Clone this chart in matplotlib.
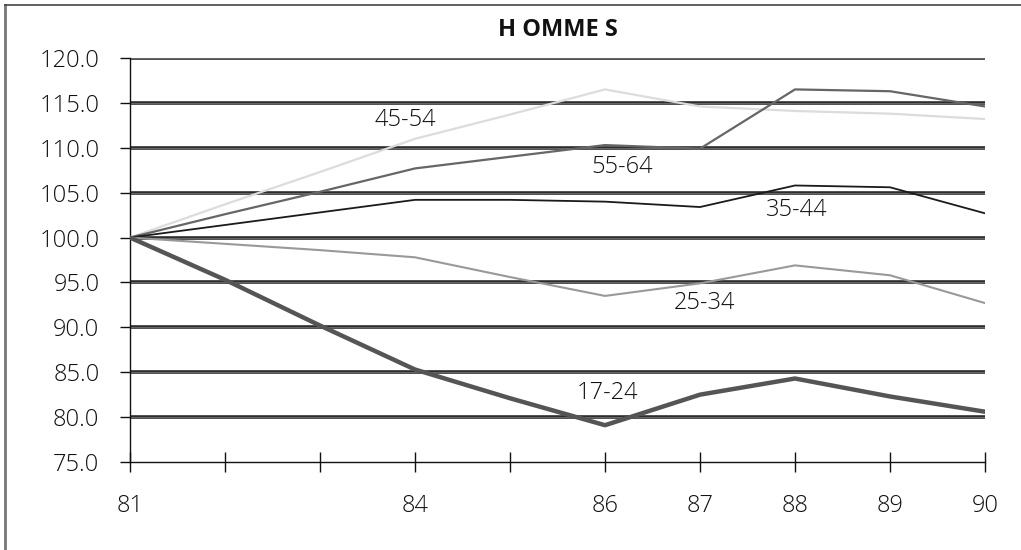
import matplotlib.pyplot as plt
from matplotlib.lines import Line2D

plt.rcParams['font.family'] = ['Open Sans', 'DejaVu Sans']
plt.rcParams['font.weight'] = 'light'

# années (seules certaines sont étiquetées)
years = ['81', '', '', '84', '', '86', '87', '88', '89', '90']

age_17_24 = [100.0, 95.3, 90.2, 85.3, 82.1, 79.1, 82.5, 84.3, 82.3, 80.6]
age_25_34 = [100.0, 99.3, 98.6, 97.8, 95.6, 93.5, 94.9, 96.9, 95.8, 92.7]
age_35_44 = [100.0, 101.4, 102.8, 104.2, 104.2, 104.0, 103.4, 105.8, 105.6, 102.7]
age_45_54 = [100.0, 103.7, 107.3, 111.0, 113.7, 116.5, 114.6, 114.1, 113.8, 113.2]
age_55_64 = [100.0, 102.6, 105.1, 107.7, 109.0, 110.3, 109.9, 116.5, 116.3, 114.6]

fig = plt.figure(figsize=(10.21, 5.5), dpi=100)
ax = fig.add_axes([130 / 1021, 1 - 462 / 550, 855 / 1021, 404 / 550])

# cadre gris autour du graphique (gauche et haut)
fig.add_artist(Line2D([5 / 1021, 5 / 1021], [0, 1 - 5 / 550], transform=fig.transFigure,
                      color='#777777', lw=2.0))
fig.add_artist(Line2D([5 / 1021, 1], [1 - 5 / 550, 1 - 5 / 550], transform=fig.transFigure,
                      color='#444444', lw=1.2))

x = list(range(len(years)))

# lignes de grille épaisses
for v in [80, 85, 90, 95, 100, 105, 110, 115, 120]:
    ax.axhline(v, color='#2a2a2a', lw=2.6, zorder=1)
    ax.axhline(v, color='#666666', lw=0.8, zorder=1)

ax.plot(x, age_45_54, color='#dcdcdc', lw=1.6, zorder=3)
ax.plot(x, age_55_64, color='#666666', lw=1.6, zorder=3)
ax.plot(x, age_35_44, color='#1a1a1a', lw=1.3, zorder=3)
ax.plot(x, age_25_34, color='#999999', lw=1.5, zorder=3)
ax.plot(x, age_17_24, color='#555555', lw=3.2, zorder=3)

lab_kw = dict(fontsize=17, ha='center', va='center', color='#111111', zorder=4)
ax.text(2.9, 113.1, '45-54', **lab_kw)
ax.text(5.18, 107.85, '55-64', **lab_kw)
ax.text(7.02, 103.07, '35-44', **lab_kw)
ax.text(6.05, 92.7, '25-34', **lab_kw)
ax.text(5.03, 82.7, '17-24', **lab_kw)

ax.set_xlim(0, len(years) - 1)
ax.set_ylim(75, 120)
ax.set_xticks(x)
ax.set_xticklabels(years)
ax.set_yticks(range(75, 121, 5))
ax.set_yticklabels([f'{v:.1f}' for v in range(75, 121, 5)])

for side in ['top', 'right']:
    ax.spines[side].set_visible(False)
ax.spines['left'].set_color('#111111')
ax.spines['bottom'].set_color('#111111')
ax.spines['left'].set_linewidth(1.0)
ax.spines['bottom'].set_linewidth(1.0)

ax.tick_params(axis='x', direction='inout', length=14, width=1.0, color='#111111',
               labelsize=17, pad=16, labelcolor='#111111')
ax.tick_params(axis='y', direction='out', length=7, width=1.0, color='#111111',
               labelsize=17, pad=15, labelcolor='#111111')

fig.text(558 / 1021, 1 - 30 / 550, 'H OMME S', fontsize=17, fontweight='bold',
         ha='center', va='center', color='#111111')

fig.savefig('out.png', dpi=100)
